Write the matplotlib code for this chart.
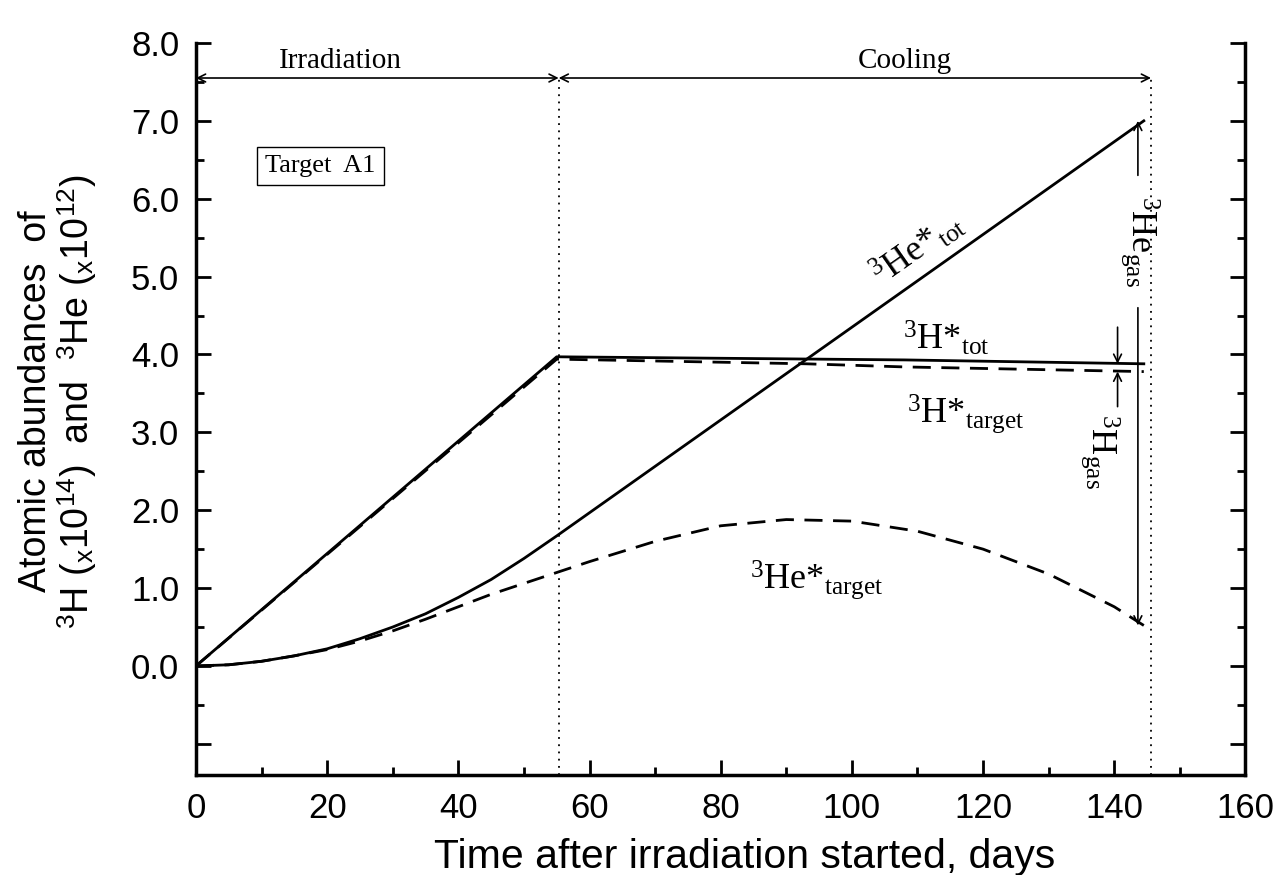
import matplotlib
matplotlib.use('Agg')
import matplotlib.pyplot as plt
from matplotlib.ticker import MultipleLocator, FixedLocator
import numpy as np

plt.rcParams['font.family'] = 'Liberation Sans'
plt.rcParams['mathtext.fontset'] = 'custom'
plt.rcParams['mathtext.rm'] = 'Liberation Serif'
plt.rcParams['mathtext.it'] = 'Liberation Serif:italic'
plt.rcParams['mathtext.sf'] = 'Liberation Sans'

# data (days, abundance)
h_tot_x = [0, 55, 108, 144.5]
h_tot_y = [0, 3.97, 3.93, 3.88]

h_target_x = [0, 55, 93, 108, 144.5]
h_target_y = [0, 3.94, 3.88, 3.84, 3.78]

he_tot_x = [0, 5, 10, 15, 20, 25, 30, 35, 40, 45, 50, 55, 144.5]
he_tot_y = [0, 0.015, 0.06, 0.13, 0.22, 0.35, 0.50, 0.67, 0.88, 1.11, 1.38, 1.67, 7.0]

he_target_x = [0, 5, 10, 15, 20, 25, 30, 35, 40, 45, 50, 55, 60, 70, 80, 90,
               100, 110, 120, 130, 140, 144.5]
he_target_y = [0, 0.015, 0.06, 0.13, 0.21, 0.32, 0.45, 0.60, 0.76, 0.92, 1.06,
               1.20, 1.34, 1.60, 1.80, 1.88, 1.86, 1.73, 1.50, 1.18, 0.76, 0.52]

t_end_irr = 55.3
t_end_cool = 145.6

fig = plt.figure(figsize=(12.84, 8.75), dpi=100)
ax = fig.add_axes([0.1526, 0.1143, 0.8174, 0.8366])

lw = 2.0
dash = (0, (6.5, 3.8))
ax.plot(h_tot_x, h_tot_y, color='black', lw=lw)
ax.plot(h_target_x, h_target_y, color='black', lw=lw, linestyle=dash)
ax.plot(he_tot_x, he_tot_y, color='black', lw=lw)
ax.plot(he_target_x, he_target_y, color='black', lw=lw, linestyle=dash)

# period markers
ax.plot([t_end_irr, t_end_irr], [-1.4, 7.55], color='black', lw=1.3, linestyle=(0, (1, 3)))
ax.plot([t_end_cool, t_end_cool], [-1.4, 7.55], color='black', lw=1.3, linestyle=(0, (1, 3)))
arrow = dict(arrowstyle='<->', color='black', lw=1.2, shrinkA=0, shrinkB=0,
             mutation_scale=14)
ax.annotate('', xy=(0, 7.55), xytext=(t_end_irr, 7.55), arrowprops=arrow)
ax.annotate('', xy=(t_end_irr, 7.55), xytext=(t_end_cool, 7.55), arrowprops=arrow)
ax.text(22, 7.6, 'Irradiation', family='Liberation Serif', fontsize=21, ha='center', va='bottom')
ax.text(108, 7.6, 'Cooling', family='Liberation Serif', fontsize=21, ha='center', va='bottom')

ax.text(19, 6.42, 'Target  A1', family='Liberation Serif', fontsize=19, ha='center', va='center',
        bbox=dict(boxstyle='square,pad=0.3', fc='white', ec='black', lw=1.0))

# curve labels
serif = dict(family='Liberation Serif', fontsize=26)
ax.text(110.0, 5.36, r'$^{3}$He*$_{\mathrm{tot}}$', rotation=35, ha='center', va='center',
        rotation_mode='anchor', **serif)
ax.text(107.8, 4.06, r'$^{3}$H*$_{\mathrm{tot}}$', ha='left', va='baseline', **serif)
ax.text(108.4, 3.13, r'$^{3}$H*$_{\mathrm{target}}$', ha='left', va='baseline', **serif)
ax.text(84.4, 0.99, r'$^{3}$He*$_{\mathrm{target}}$', ha='left', va='baseline', **serif)
ax.text(143.9, 5.45, r'$^{3}$He$_{\mathrm{gas}}$', rotation=-90, ha='center', va='center', **serif)
ax.text(137.8, 2.76, r'$^{3}$H$_{\mathrm{gas}}$', rotation=-90, ha='center', va='center', **serif)

# gas arrows
single = dict(arrowstyle='->', color='black', lw=1.2, shrinkA=0, shrinkB=0, mutation_scale=14)
ax.annotate('', xy=(143.6, 7.0), xytext=(143.6, 6.3), arrowprops=single)
ax.annotate('', xy=(143.6, 0.52), xytext=(143.6, 4.6), arrowprops=single)
ax.annotate('', xy=(140.5, 3.88), xytext=(140.5, 4.35), arrowprops=single)
ax.annotate('', xy=(140.5, 3.78), xytext=(140.5, 3.33), arrowprops=single)

ax.set_xlim(0, 160)
ax.set_ylim(-1.4, 8.0)
ax.xaxis.set_major_locator(MultipleLocator(20))
ax.xaxis.set_minor_locator(MultipleLocator(10))
ax.yaxis.set_major_locator(FixedLocator(np.arange(-1, 9)))
ax.yaxis.set_minor_locator(MultipleLocator(0.5))
ax.set_yticklabels(['' if v < 0 else '%.1f' % v for v in np.arange(-1, 9)])

ax.spines['top'].set_visible(False)
for s in ['left', 'bottom', 'right']:
    ax.spines[s].set_linewidth(2.5)
ax.tick_params(which='both', direction='in', right=True, top=False, width=2.0, labelsize=25)
ax.tick_params(which='major', length=11, pad=12)
ax.tick_params(which='minor', length=6)

ax.set_xlabel('Time after irradiation started, days', fontsize=29.5)
ax.xaxis.set_label_coords(0.523, -0.086)
ax.set_ylabel('Atomic abundances  of\n'
              r'$^{\mathsf{3}}$H ($_{\mathsf{x}}$10$^{\mathsf{14}}$)  and  '
              r'$^{\mathsf{3}}$He ($_{\mathsf{x}}$10$^{\mathsf{12}}$)',
              fontsize=27, linespacing=1.05)
ax.yaxis.set_label_coords(-0.092, 0.51)

fig.savefig('out.png', dpi=100)
